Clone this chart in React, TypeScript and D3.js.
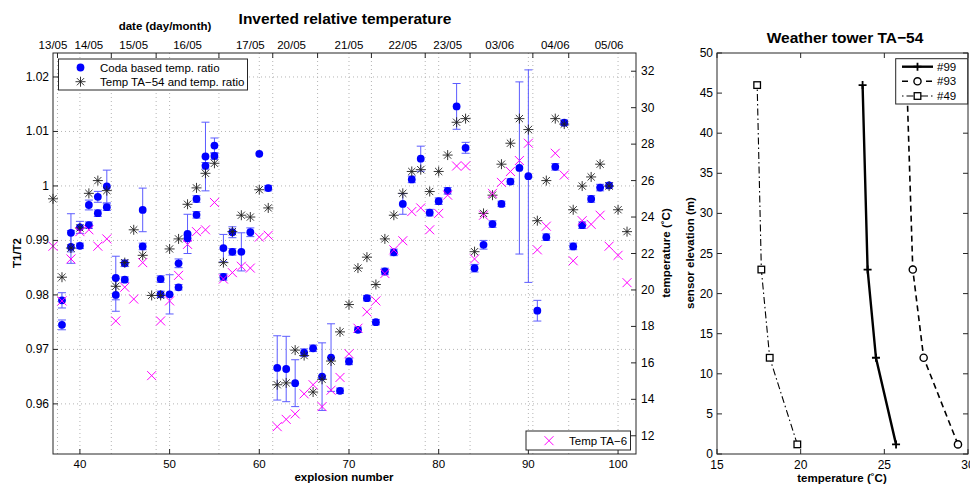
import React from "react";
import * as d3 from "d3";

// explosion numbers (consecutive shots)
const explosionNumbers = d3.range(37, 102);

// coda based temperature ratio: [explosion, T1/T2, error]
const codaPoints: [number, number, number][] = [
  [38, 0.979, 0.0014], [38, 0.9745, 0.0009],
  [39, 0.9914, 0.0035], [39, 0.9888, 0.003],
  [40, 0.9924, 0.0011], [40, 0.989, 0.0005],
  [41, 0.9928, 0.0006], [41, 0.9965, 0.0009],
  [42, 0.998, 0.001], [42, 0.995, 0.0006],
  [43, 0.9999, 0.003], [43, 0.9961, 0.0006],
  [44, 0.9831, 0.004], [44, 0.98, 0.003],
  [45, 0.9858, 0.0006], [45, 0.9828, 0.0005],
  [47, 0.9956, 0.004], [47, 0.9889, 0.0006],
  [49, 0.9801, 0.0006], [49, 0.9829, 0.0006],
  [50, 0.9801, 0.0036],
  [51, 0.9858, 0.0008], [51, 0.9814, 0.0005],
  [52, 0.9912, 0.0036], [52, 0.9904, 0.0006],
  [53, 0.9976, 0.0006], [53, 0.9947, 0.0006],
  [54, 1.0054, 0.0063], [54, 1.0037, 0.0006],
  [55, 1.0074, 0.0014], [55, 1.0055, 0.0006],
  [56, 0.9886, 0.0025], [56, 0.9833, 0.0006],
  [57, 0.9915, 0.001], [57, 0.9879, 0.0006],
  [58, 0.9879, 0.0035],
  [59, 0.9915, 0.0008],
  [60, 1.0059, 0],
  [61, 0.9996, 0.0005],
  [62, 0.9666, 0.0059],
  [63, 0.9664, 0.006],
  [64, 0.9638, 0.0043],
  [65, 0.9694, 0.0007],
  [66, 0.9702, 0.0006],
  [67, 0.965, 0.0062],
  [68, 0.9685, 0.0062],
  [69, 0.9624, 0.0005],
  [70, 0.9678, 0.0006],
  [71, 0.9736, 0.0005],
  [72, 0.9794, 0.0005],
  [73, 0.975, 0.0005],
  [74, 0.9843, 0.0006],
  [75, 0.9878, 0.0006],
  [76, 0.9967, 0.0019],
  [77, 1.0012, 0.0006],
  [78, 1.005, 0.0023],
  [79, 0.9951, 0.0006],
  [80, 0.9972, 0.0006],
  [81, 0.9991, 0.0006],
  [82, 1.0146, 0.0042],
  [83, 1.007, 0.001],
  [84, 0.9849, 0.0007],
  [85, 0.9892, 0.0008],
  [86, 0.993, 0.0006],
  [87, 0.9967, 0.0005],
  [88, 1.0008, 0.0005],
  [89, 1.0033, 0.0158],
  [90, 1.0018, 0.0195],
  [91, 0.9771, 0.0019],
  [92, 0.9906, 0.0006],
  [93, 1.0035, 0.0006],
  [94, 1.0116, 0.0005],
  [95, 0.9889, 0.0006],
  [96, 0.9928, 0.0006],
  [97, 0.9976, 0.0006],
  [98, 0.9997, 0.0006],
  [99, 1.0001, 0.0005],
];

// temperature at TA-54 (deg C), one per explosion 37..101
const ta54Temps = [
  25.0, 20.7, 22.3, 23.4, 25.3, 26.0, 25.45, 20.2, 21.5, 23.3,
  21.9, 19.7, 19.7, 22.25, 22.8, 24.7, 25.6, 26.4, 26.95, 21.5,
  23.2, 24.1, 24.0, 25.5, 24.5, 14.8, 14.9, 16.7, 16.4, 14.4,
  15.1, 16.1, 17.7, 19.2, 21.2, 21.8, 20.3, 22.8, 24.1, 25.3,
  26.5, 26.6, 25.4, 26.5, 27.4, 29.2, 29.4, 22.1, 24.2, 25.2,
  26.9, 28.05, 29.4, 28.8, 23.8, 26.0, 29.4, 29.1, 24.4, 25.7,
  26.2, 26.9, 25.7, 24.4, 23.2,
];

// temperature at TA-6 (deg C), one per explosion 37..101
const ta6Temps = [
  22.4, 19.4, 21.7, 23.2, 23.3, 22.4, 22.8, 18.3, 20.15, 19.5,
  21.5, 15.3, 18.3, 19.4, 20.8, 22.5, 23.2, 23.3, 24.8, 20.6,
  20.95, 21.3, 21.2, 22.9, 23.0, 12.5, 12.9, 13.2, 14.3, 14.8,
  13.6, 14.5, 15.2, 16.5, 17.9, 18.8, 19.4, 20.9, 22.2, 22.7,
  24.3, 24.5, 23.3, 24.2, 25.2, 26.8, 26.8, 21.7, 24.1, 25.3,
  25.9, 26.5, 27.1, 28.05, 22.2, 23.5, 27.5, 26.3, 21.6, 23.8,
  23.6, 24.1, 22.4, 21.9, 20.4,
];

// top axis: dates
const dateLabels = ["13/05", "14/05", "15/05", "16/05", "17/05", "20/05", "21/05", "22/05", "23/05", "03/06", "04/06", "05/06"];
const dateLabelAt = [37, 41, 46, 52, 59, 63.6, 70, 76, 81, 86.8, 93, 99];
const dateBounds = [37.5, 43.5, 48.5, 55.5, 61.5, 66.5, 72.5, 78.5, 83.5, 90.5, 94.5];

const ratioTicks = [0.96, 0.97, 0.98, 0.99, 1, 1.01, 1.02];
const ratioTickLabels = ["0.96", "0.97", "0.98", "0.99", "1", "1.01", "1.02"];
const tempTicks = [12, 14, 16, 18, 20, 22, 24, 26, 28, 30, 32];
const explosionTicks = [40, 50, 60, 70, 80, 90, 100];

// weather tower TA-54 profiles
const sensorElevations = [1.2, 12, 23, 46];
const tower99 = [25.7, 24.5, 24.0, 23.7];
const tower93 = [29.4, 27.35, 26.7, 26.35];
const tower49 = [19.8, 18.15, 17.65, 17.4];
const towerXTicks = [15, 20, 25, 30];
const towerYTicks = [0, 5, 10, 15, 20, 25, 30, 35, 40, 45, 50];

const font = "'Liberation Sans', Arial, Helvetica, sans-serif";
const starPath = "M-5,0H5M0,-5V5M-3.6,-3.6L3.6,3.6M-3.6,3.6L3.6,-3.6";
const crossPath = "M-4.5,-4.5L4.5,4.5M-4.5,4.5L4.5,-4.5";

const App: React.FC = () => {
  const L = { left: 53, right: 636, top: 53, bottom: 454 };
  const x = d3.scaleLinear().domain([37, 102]).range([L.left, L.right]);
  const yR = d3.scaleLinear().domain([0.9508, 1.0244]).range([L.bottom, L.top]);
  const yT = d3.scaleLinear().domain([11, 33]).range([L.bottom, L.top]);

  const R = { left: 717, right: 968, top: 53, bottom: 454 };
  const xt = d3.scaleLinear().domain([15, 30]).range([R.left, R.right]);
  const ye = d3.scaleLinear().domain([0, 50]).range([R.bottom, R.top]);

  const towerLine = d3
    .line<[number, number]>()
    .x((d) => xt(d[0]))
    .y((d) => ye(d[1]));
  const prof = (t: number[]) => t.map((v, i) => [v, sensorElevations[i]] as [number, number]);

  const grid = { stroke: "#b4b4b4", strokeWidth: 1, strokeDasharray: "1,3" };
  const ebColor = "#5c5cff";

  return (
    <div style={{ position: "absolute", left: 0, top: 0 }}>
      <svg width={970} height={485} style={{ display: "block", background: "#fff" }} fontFamily={font}>
        {/* ---------- left chart ---------- */}
        <text x={345} y={24} textAnchor="middle" fontSize={15.5} fontWeight="bold">
          Inverted relative temperature
        </text>
        <text x={165} y={30} textAnchor="middle" fontSize={11.5} fontWeight="bold">
          date (day/month)
        </text>

        {/* grid */}
        <g>
          {explosionTicks.map((t) => (
            <line key={"gx" + t} x1={x(t)} x2={x(t)} y1={L.top} y2={L.bottom} {...grid} />
          ))}
          {dateBounds.map((t) => (
            <line key={"gd" + t} x1={x(t)} x2={x(t)} y1={L.top} y2={L.bottom} {...grid} />
          ))}
          {ratioTicks.map((t) => (
            <line key={"gy" + t} x1={L.left} x2={L.right} y1={yR(t)} y2={yR(t)} {...grid} />
          ))}
        </g>

        {/* coda ratio with error bars */}
        <g>
          {codaPoints.map(([n, r, e], i) =>
            e > 0 ? (
              <g key={"eb" + i} stroke={ebColor} strokeWidth={1}>
                <line x1={x(n)} x2={x(n)} y1={yR(r - e)} y2={yR(r + e)} />
                <line x1={x(n) - 4} x2={x(n) + 4} y1={yR(r - e)} y2={yR(r - e)} />
                <line x1={x(n) - 4} x2={x(n) + 4} y1={yR(r + e)} y2={yR(r + e)} />
              </g>
            ) : null
          )}
          {codaPoints.map(([n, r], i) => (
            <circle key={"c" + i} cx={x(n)} cy={yR(r)} r={3.9} fill="#0000ff" />
          ))}
        </g>

        {/* TA-54 */}
        <g stroke="#202020" strokeWidth={0.9} fill="none">
          {ta54Temps.map((t, i) => (
            <path key={"s" + i} d={starPath} transform={`translate(${x(explosionNumbers[i])},${yT(t)})`} />
          ))}
        </g>

        {/* TA-6 */}
        <g stroke="#ff00ff" strokeWidth={1} fill="none">
          {ta6Temps.map((t, i) => (
            <path key={"m" + i} d={crossPath} transform={`translate(${x(explosionNumbers[i])},${yT(t)})`} />
          ))}
        </g>

        {/* axes box and ticks */}
        <rect x={L.left} y={L.top} width={L.right - L.left} height={L.bottom - L.top} fill="none" stroke="#262626" strokeWidth={1} />
        {explosionTicks.map((t) => (
          <g key={"bx" + t}>
            <line x1={x(t)} x2={x(t)} y1={L.bottom} y2={L.bottom - 5} stroke="#262626" />
            <text x={x(t)} y={468} textAnchor="middle" fontSize={11.5}>
              {t}
            </text>
          </g>
        ))}
        {dateBounds.map((t) => (
          <line key={"tb" + t} x1={x(t)} x2={x(t)} y1={L.top} y2={L.top + 5} stroke="#262626" />
        ))}
        {dateLabels.map((d, i) => (
          <text key={d} x={x(dateLabelAt[i])} y={49} textAnchor="middle" fontSize={11.5}>
            {d}
          </text>
        ))}
        {ratioTicks.map((t, i) => (
          <g key={"ly" + t}>
            <line x1={L.left} x2={L.left + 5} y1={yR(t)} y2={yR(t)} stroke="#262626" />
            <text x={49} y={yR(t) + 4} textAnchor="end" fontSize={12}>
              {ratioTickLabels[i]}
            </text>
          </g>
        ))}
        {tempTicks.map((t) => (
          <g key={"ry" + t}>
            <line x1={L.right} x2={L.right - 5} y1={yT(t)} y2={yT(t)} stroke="#262626" />
            <text x={641} y={yT(t) + 4} textAnchor="start" fontSize={12}>
              {t}
            </text>
          </g>
        ))}
        <text transform="translate(21,253) rotate(-90)" textAnchor="middle" fontSize={11.5} fontWeight="bold">
          T1/T2
        </text>
        <text transform="translate(670,253) rotate(-90)" textAnchor="middle" fontSize={11.5} fontWeight="bold">
          temperature (˚C)
        </text>
        <text x={344} y={481} textAnchor="middle" fontSize={11.5} fontWeight="bold">
          explosion number
        </text>

        {/* legend 1 */}
        <g>
          <rect x={58.5} y={59} width={189} height={31} fill="#fff" stroke="#262626" />
          <circle cx={80.5} cy={67.5} r={3.9} fill="#0000ff" />
          <path d={starPath} transform="translate(80.5,81.7)" stroke="#202020" strokeWidth={0.9} />
          <text x={100} y={71.5} fontSize={11.5}>
            Coda based temp. ratio
          </text>
          <text x={100} y={86} fontSize={11.5}>
            Temp TA−54 and temp. ratio
          </text>
        </g>
        {/* legend 2 */}
        <g>
          <rect x={526} y={431} width={104.5} height={19} fill="#fff" stroke="#262626" />
          <path d={crossPath} transform="translate(549,440.7)" stroke="#ff00ff" strokeWidth={1} />
          <text x={569} y={445} fontSize={11.5}>
            Temp TA−6
          </text>
        </g>

        {/* ---------- right chart ---------- */}
        <text x={845} y={43} textAnchor="middle" fontSize={15.5} fontWeight="bold">
          Weather tower TA−54
        </text>
        <rect x={R.left} y={R.top} width={R.right - R.left} height={R.bottom - R.top} fill="#fff" stroke="#262626" />
        {towerXTicks.map((t) => (
          <g key={"tx" + t}>
            <line x1={xt(t)} x2={xt(t)} y1={R.bottom} y2={R.bottom - 5} stroke="#262626" />
            <line x1={xt(t)} x2={xt(t)} y1={R.top} y2={R.top + 5} stroke="#262626" />
            <text x={xt(t)} y={469} textAnchor="middle" fontSize={12}>
              {t}
            </text>
          </g>
        ))}
        {towerYTicks.map((t) => (
          <g key={"ty" + t}>
            <line x1={R.left} x2={R.left + 5} y1={ye(t)} y2={ye(t)} stroke="#262626" />
            <line x1={R.right} x2={R.right - 5} y1={ye(t)} y2={ye(t)} stroke="#262626" />
            <text x={713} y={ye(t) + 4} textAnchor="end" fontSize={12}>
              {t}
            </text>
          </g>
        ))}
        <text transform="translate(694,253) rotate(-90)" textAnchor="middle" fontSize={11.5} fontWeight="bold">
          sensor elevation (m)
        </text>
        <text x={842} y={482} textAnchor="middle" fontSize={11.5} fontWeight="bold">
          temperature (˚C)
        </text>

        {/* profiles */}
        <path d={towerLine(prof(tower49)) || ""} fill="none" stroke="#000" strokeWidth={1.1} strokeDasharray="7,3,1.5,3" />
        <path d={towerLine(prof(tower93)) || ""} fill="none" stroke="#000" strokeWidth={1.6} strokeDasharray="6,4" />
        <path d={towerLine(prof(tower99)) || ""} fill="none" stroke="#000" strokeWidth={2.4} />
        {prof(tower99).map((d, i) => (
          <path key={"p99" + i} d="M-4,0H4M0,-4V4" transform={`translate(${xt(d[0])},${ye(d[1])})`} stroke="#000" strokeWidth={1.8} />
        ))}
        {prof(tower93).map((d, i) => (
          <circle key={"p93" + i} cx={xt(d[0])} cy={ye(d[1])} r={3.6} fill="#fff" stroke="#000" strokeWidth={1.4} />
        ))}
        {prof(tower49).map((d, i) => (
          <rect key={"p49" + i} x={xt(d[0]) - 3.3} y={ye(d[1]) - 3.3} width={6.6} height={6.6} fill="#fff" stroke="#000" strokeWidth={1.3} />
        ))}

        {/* tower legend */}
        <g>
          <rect x={895.7} y={58.7} width={72} height={45.3} fill="#fff" stroke="#262626" />
          <line x1={902} x2={933} y1={66.7} y2={66.7} stroke="#000" strokeWidth={2.4} />
          <path d="M-4,0H4M0,-4V4" transform="translate(917.5,66.7)" stroke="#000" strokeWidth={1.8} />
          <line x1={902} x2={933} y1={81.3} y2={81.3} stroke="#000" strokeWidth={1.6} strokeDasharray="6,6" />
          <circle cx={917.5} cy={81.3} r={3.6} fill="#fff" stroke="#000" strokeWidth={1.4} />
          <line x1={902} x2={933} y1={96} y2={96} stroke="#000" strokeWidth={1.1} strokeDasharray="1.5,3,7,3" />
          <rect x={914.2} y={92.7} width={6.6} height={6.6} fill="#fff" stroke="#000" strokeWidth={1.3} />
          <text x={937} y={70.7} fontSize={11.5}>#99</text>
          <text x={937} y={85.3} fontSize={11.5}>#93</text>
          <text x={937} y={100} fontSize={11.5}>#49</text>
        </g>
      </svg>
    </div>
  );
};

export default App;
